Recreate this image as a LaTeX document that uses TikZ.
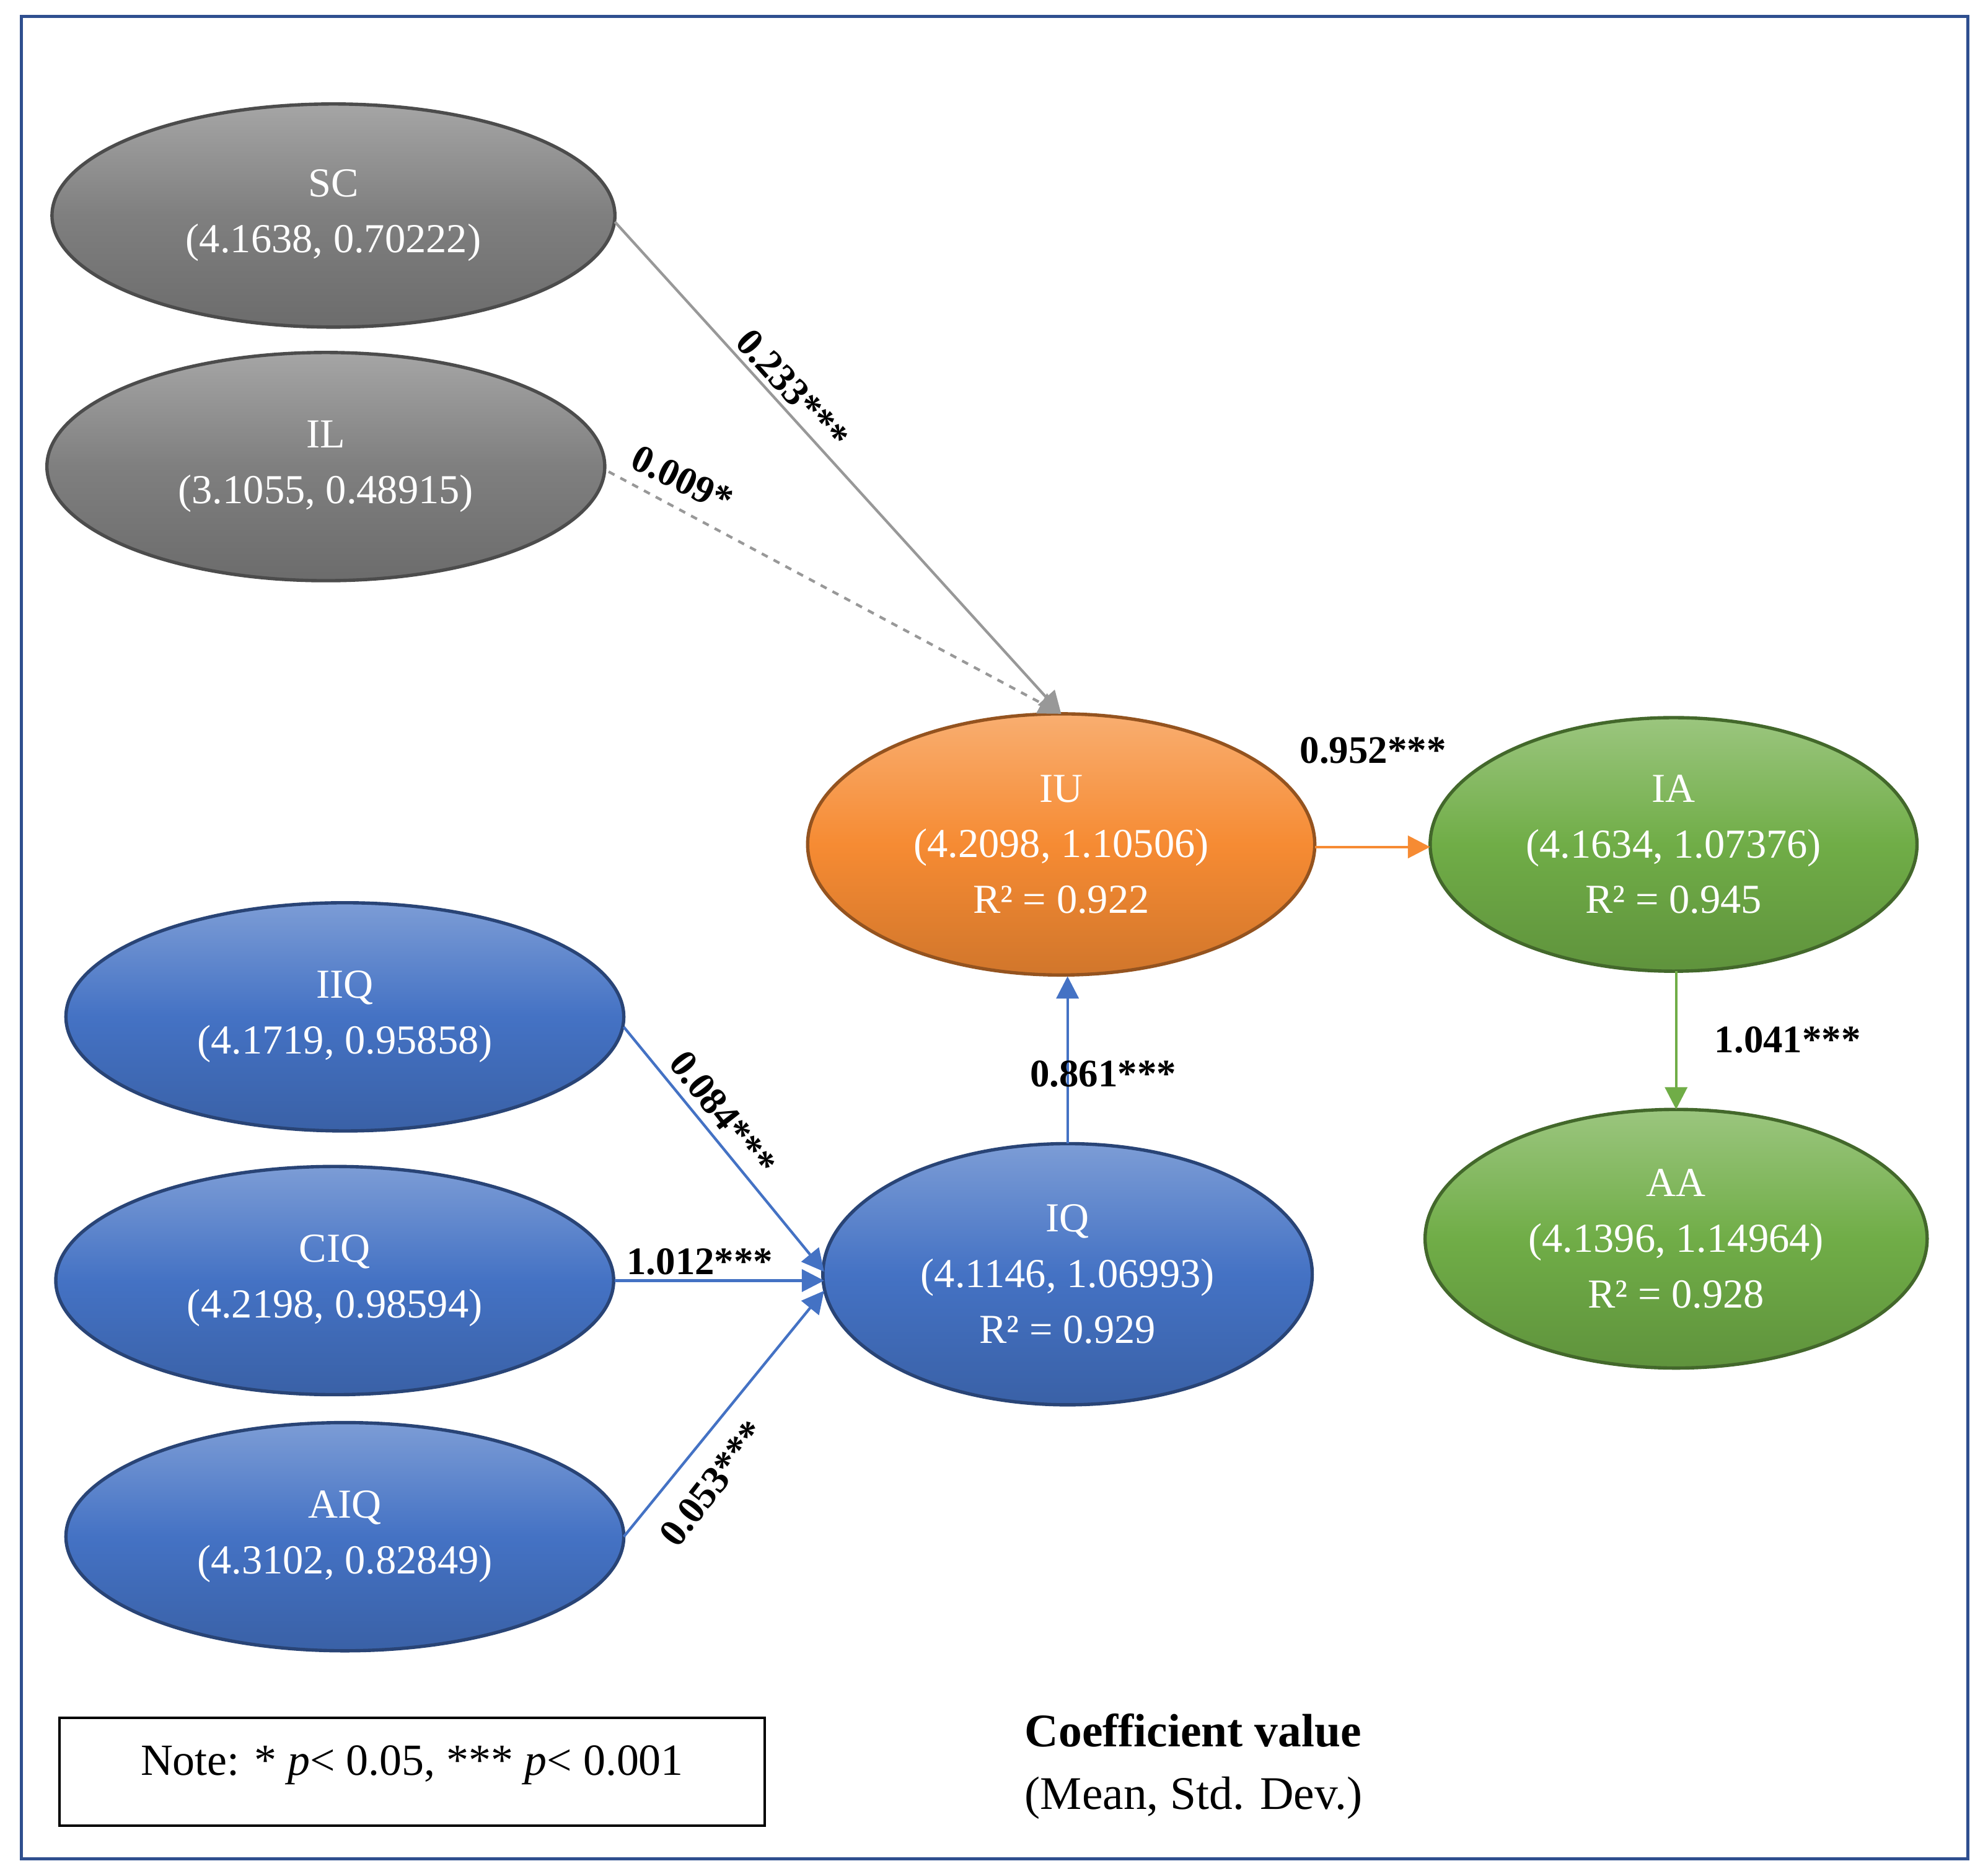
\documentclass[tikz,border=0pt]{standalone}
\usepackage{fontspec}
\setmainfont{Liberation Serif}
\usetikzlibrary{arrows.meta}
\definecolor{cgray}{HTML}{7F7F7F}
\definecolor{corange}{HTML}{F68B33}
\definecolor{cgreen}{HTML}{70AD47}
\definecolor{cblue}{HTML}{4472C4}
\definecolor{cframe}{HTML}{2F4F8F}
\begin{document}
\begin{tikzpicture}[x=0.02cm,y=-0.02cm,
  lat/.style={draw=#1!60!black,line width=1.5pt,top color=#1!70!white,bottom color=#1!85!black,middle color=#1,shading angle=0},
  el/.style={inner sep=0pt,font=\fontsize{18.5}{25}\selectfont,text=white,align=center},
  lab/.style={font=\bfseries\fontsize{17.5}{20}\selectfont,inner sep=0pt},
  arr/.style={line width=1.2pt,-{Triangle[length=10pt,width=10pt]}}]
\useasboundingbox (0,0) rectangle (1568,1478);
\draw[cframe,line width=1.5pt] (17,13) rectangle (1552,1466);
\newcommand{\lv}[7]{\draw[lat=#6] (#2,#3) ellipse [x radius=#4,y radius=#5]; \node[el] (#1) at (#2,#3) {#7};}
\lv{SC}{263}{170}{222}{88}{cgray}{SC\\(4.1638, 0.70222)}
\lv{IL}{257}{368}{220}{90}{cgray}{IL\\(3.1055, 0.48915)}
\lv{IU}{837}{666}{200}{103}{corange}{IU\\(4.2098, 1.10506)\\R² = 0.922}
\lv{IA}{1320}{666}{192}{100}{cgreen}{IA\\(4.1634, 1.07376)\\R² = 0.945}
\lv{IIQ}{272}{802}{220}{90}{cblue}{IIQ\\(4.1719, 0.95858)}
\lv{CIQ}{264}{1010}{220}{90}{cblue}{CIQ\\(4.2198, 0.98594)}
\lv{AIQ}{272}{1212}{220}{90}{cblue}{AIQ\\(4.3102, 0.82849)}
\lv{IQ}{842}{1005}{193}{103}{cblue}{IQ\\(4.1146, 1.06993)\\R² = 0.929}
\lv{AA}{1322}{977}{198}{102}{cgreen}{AA\\(4.1396, 1.14964)\\R² = 0.928}
\coordinate (SCe) at (485,175); \coordinate (ILe) at (480,372);
\coordinate (IUt) at (837,563); \coordinate (IUr) at (1037,668); \coordinate (IAl) at (1128,668);
\coordinate (IAb) at (1322,766); \coordinate (AAt) at (1322,875);
\coordinate (IQt) at (842,902); \coordinate (IUb) at (842,770);
\coordinate (IIQe) at (492,810); \coordinate (CIQe) at (485,1010); \coordinate (AIQe) at (492,1212);
\coordinate (IQl1) at (650,1003); \coordinate (IQl2) at (650,1010); \coordinate (IQl3) at (650,1018);
\draw[arr,cgray!80] (SCe) -- (IUt);
\draw[arr,cgray!80,dashed] (ILe) -- (IUt);
\draw[arr,corange] (IUr) -- (IAl);
\draw[arr,cgreen] (IAb) -- (AAt);
\draw[arr,cblue] (IQt) -- (IUb);
\draw[arr,cblue] (IIQe) -- (IQl1);
\draw[arr,cblue] (CIQe) -- (IQl2);
\draw[arr,cblue] (AIQe) -- (IQl3);
\node[lab,rotate=-48] (l1) at (625,307) {0.233***};
\node[lab,rotate=-26] (l2) at (538,378) {0.009*};
\node[lab] (l3) at (1083,592) {0.952***};
\node[lab] (l4) at (1410,820) {1.041***};
\node[lab] (l5) at (870,847) {0.861***};
\node[lab,rotate=-52] (l6) at (570,878) {0.084***};
\node[lab] (l7) at (552,995) {1.012***};
\node[lab,rotate=52] (l8) at (562,1170) {0.053***};
\draw[line width=1.2pt] (47,1355) rectangle (603,1440);
\node[font=\fontsize{20}{22}\selectfont] (nt) at (325,1392) {Note: * \textit{p}< 0.05, *** \textit{p}< 0.001};
\node[font=\bfseries\fontsize{21}{24}\selectfont,anchor=west,inner sep=0pt] (cv) at (808,1365) {Coefficient value};
\node[font=\fontsize{21}{24}\selectfont,anchor=west,inner sep=0pt] (ms) at (808,1418) {(Mean, Std. Dev.)};
\end{tikzpicture}
\end{document}
